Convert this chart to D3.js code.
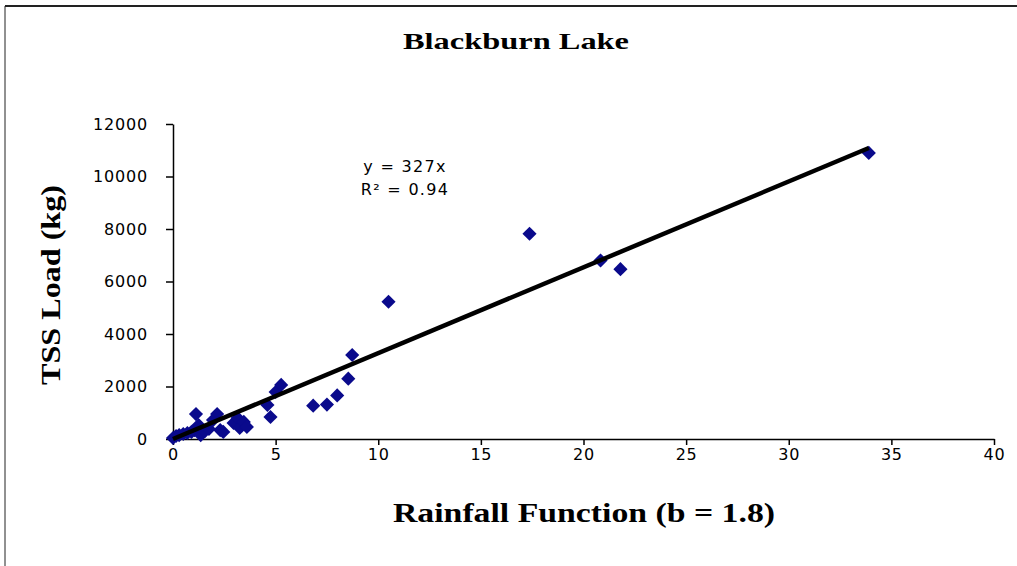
<!DOCTYPE html>
<html>
<head>
<meta charset="utf-8">
<script src="https://cdn.jsdelivr.net/npm/d3@7"></script>
<style>
  html, body { margin: 0; padding: 0; background: #fff; }
  svg { display: block; }
</style>
</head>
<body>
<svg id="chart" width="1017" height="566"></svg>
<script>
// Rainfall function (b = 1.8) for each event
const rainfall = [
  0.0, 0.15, 0.3, 0.5, 0.7, 0.9, 1.05, 1.12, 1.25, 1.35, 1.55, 1.75, 1.95, 2.15,
  2.3, 2.45, 2.95, 3.15, 3.25, 3.45, 3.6, 4.6, 4.75, 5.0, 5.27,
  6.83, 7.5, 8.0, 8.54, 8.73, 10.5, 17.37, 20.83, 21.8, 33.9
];
// TSS load (kg) for each event
const tssLoad = [
  40, 115, 150, 190, 230, 270, 340, 950, 530, 150, 300, 380, 720, 950,
  340, 270, 610, 800, 420, 650, 460, 1300, 840, 1790, 2060,
  1270, 1310, 1660, 2300, 3200, 5230, 7820, 6800, 6470, 10900
];
// Fitted trend (through origin)
const slope = 327;
const rSquared = 0.94;

const xTicks = [0, 5, 10, 15, 20, 25, 30, 35, 40];
const yTicks = [0, 2000, 4000, 6000, 8000, 10000, 12000];

const titleText = "Blackburn Lake";
const xTitle = "Rainfall Function (b = 1.8)";
const yTitle = "TSS Load (kg)";

const svg = d3.select("#chart");

// outer frame (top and left edges)
svg.append("line").attr("x1", 5).attr("y1", 6).attr("x2", 1017).attr("y2", 6)
  .attr("stroke", "#222").attr("stroke-width", 2);
svg.append("line").attr("x1", 5).attr("y1", 6).attr("x2", 5).attr("y2", 566)
  .attr("stroke", "#222").attr("stroke-width", 1);

const x = d3.scaleLinear().domain([0, 40]).range([173, 994]);
const y = d3.scaleLinear().domain([0, 12000]).range([439, 124]);

const tickFont = "'DejaVu Sans', sans-serif";

const xAxis = svg.append("g")
  .attr("transform", `translate(0,${y(0)})`)
  .call(d3.axisBottom(x).tickValues(xTicks).tickSize(6).tickSizeOuter(0).tickPadding(4)
    .tickFormat(d3.format("d")));
const yAxis = svg.append("g")
  .attr("transform", `translate(${x(0)},0)`)
  .call(d3.axisLeft(y).tickValues(yTicks).tickSize(7).tickSizeOuter(0).tickPadding(18)
    .tickFormat(d3.format("d")));

[xAxis, yAxis].forEach(g => {
  g.select(".domain").attr("stroke", "#000").attr("stroke-width", 1.5);
  g.selectAll(".tick line").attr("stroke", "#000").attr("stroke-width", 1.5);
  g.selectAll(".tick text").attr("fill", "#000")
    .style("font-family", tickFont).style("font-size", "16px")
    .style("letter-spacing", "0.8px");
});

// data markers: diamonds
const pts = rainfall.map((r, i) => ({ r, t: tssLoad[i] }));
const diamond = d3.symbol().type(d3.symbolSquare).size(100);
svg.append("g").selectAll("path").data(pts).join("path")
  .attr("d", diamond)
  .attr("transform", d => `translate(${x(d.r)},${y(d.t)}) rotate(45)`)
  .attr("fill", "#0a0a8c");

// trendline from 0 to the largest rainfall value
const xMax = d3.max(rainfall);
svg.append("line")
  .attr("x1", x(0)).attr("y1", y(0))
  .attr("x2", x(xMax)).attr("y2", y(slope * xMax))
  .attr("stroke", "#000").attr("stroke-width", 4.5);

// equation label
const eqStyle = sel => sel.attr("x", 405).attr("text-anchor", "middle")
  .style("font-family", tickFont).style("font-size", "16px")
  .style("letter-spacing", "1.3px").attr("fill", "#000");
svg.append("text").call(eqStyle).attr("y", 172).text(`y = ${slope}x`);
svg.append("text").call(eqStyle).attr("y", 195).text(`R² = ${rSquared.toFixed(2)}`);

// titles
const serif = "'Liberation Serif', 'Times New Roman', serif";
svg.append("text").attr("x", 516).attr("y", 49)
  .attr("text-anchor", "middle")
  .attr("textLength", 226).attr("lengthAdjust", "spacingAndGlyphs")
  .style("font-family", serif).style("font-weight", "bold").style("font-size", "23px")
  .text(titleText);

svg.append("text").attr("x", 584).attr("y", 522)
  .attr("text-anchor", "middle")
  .attr("textLength", 382).attr("lengthAdjust", "spacingAndGlyphs")
  .style("font-family", serif).style("font-weight", "bold").style("font-size", "27px")
  .text(xTitle);

svg.append("text")
  .attr("transform", "translate(60,285) rotate(-90)")
  .attr("text-anchor", "middle")
  .attr("textLength", 200).attr("lengthAdjust", "spacingAndGlyphs")
  .style("font-family", serif).style("font-weight", "bold").style("font-size", "27px")
  .text(yTitle);
</script>
</body>
</html>
